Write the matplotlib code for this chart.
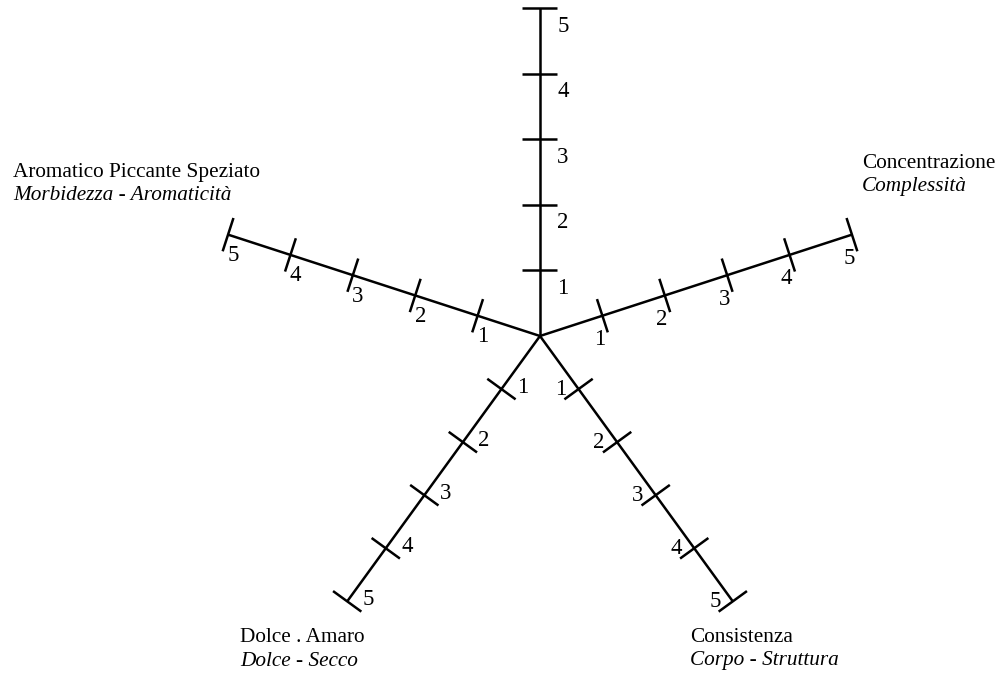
import numpy as np
import matplotlib.pyplot as plt

plt.rcParams['font.family'] = ['Liberation Serif', 'DejaVu Serif']

# --- data ---
axis_titles = ['Concentrazione', 'Consistenza', 'Dolce . Amaro', 'Aromatico Piccante Speziato']
axis_subtitles = ['Complessità', 'Corpo - Struttura', 'Dolce - Secco', 'Morbidezza - Aromaticità']
axis_angles = [90, 18, 306, 234, 162]          # degrees, top axis first
scale_values = [1, 2, 3, 4, 5]

# --- layout / style ---
PX = 65.6                      # pixels per scale unit
CX, CY = 540, 336              # centre in pixels
W, H = 1000, 678
tick_half = 17.5 / PX
label_offsets = {90: (23, -18), 18: (-3, -24), 306: (-18, 0), 234: (21, 2), 162: (5, -21)}
title_pos = [(862, 164), (690, 638), (240, 638), (13, 172)]

fig = plt.figure(figsize=(W / 100, H / 100), dpi=100)
ax = fig.add_axes([0, 0, 1, 1])
ax.set_xlim(-CX / PX, (W - CX) / PX)
ax.set_ylim(-(H - CY) / PX, CY / PX)
ax.axis('off')

lw = 1.8
for ang in axis_angles:
    t = np.deg2rad(ang)
    d = np.array([np.cos(t), np.sin(t)])
    p = np.array([-d[1], d[0]])
    rmax = max(scale_values)
    ax.plot([0, d[0] * rmax], [0, d[1] * rmax], color='black', lw=lw, solid_capstyle='butt')
    for v in scale_values:
        c = d * v
        a, b = c - p * tick_half, c + p * tick_half
        ax.plot([a[0], b[0]], [a[1], b[1]], color='black', lw=lw, solid_capstyle='butt')
        ax.annotate(str(v), xy=(c[0], c[1]), xytext=label_offsets[ang],
                    textcoords='offset pixels', ha='center', va='center', fontsize=16.5)

for (x, y), title, sub in zip(title_pos, axis_titles, axis_subtitles):
    fig.text(x / W, 1 - y / H, title, ha='left', va='center', fontsize=15.3)
    fig.text(x / W, 1 - (y + 23) / H, sub, ha='left', va='center', fontsize=15.3, style='italic')

plt.savefig('out.png', dpi=100, facecolor='white')
